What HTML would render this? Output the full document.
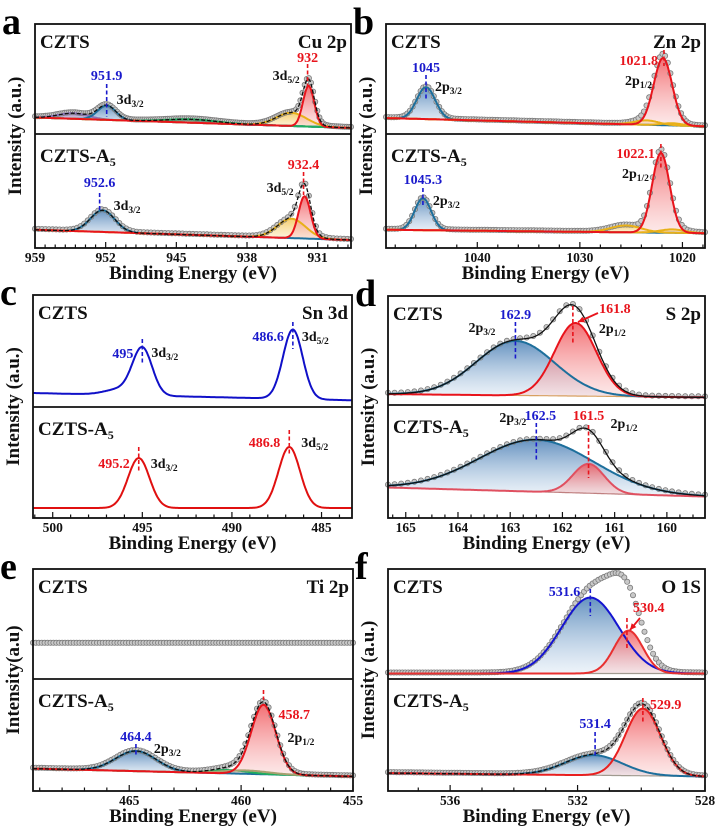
<!DOCTYPE html>
<html><head><meta charset="utf-8"><style>
html,body{margin:0;padding:0;background:#fff;}
svg{display:block;font-family:"Liberation Serif","DejaVu Serif",serif;font-weight:bold;}
text{font-family:"Liberation Serif","DejaVu Serif",serif;}
</style></head><body>
<svg id="fig" width="721" height="836" viewBox="0 0 721 836" xmlns="http://www.w3.org/2000/svg">
<defs>
<linearGradient id="gBlue" x1="0" y1="0" x2="0" y2="1"><stop offset="0" stop-color="#4a7fb5" stop-opacity="0.85"/><stop offset="1" stop-color="#dce8f4" stop-opacity="0.5"/></linearGradient>
<linearGradient id="gRed" x1="0" y1="0" x2="0" y2="1"><stop offset="0" stop-color="#f0555a" stop-opacity="0.85"/><stop offset="1" stop-color="#fbd5d5" stop-opacity="0.5"/></linearGradient>
<linearGradient id="gYel" x1="0" y1="0" x2="0" y2="1"><stop offset="0" stop-color="#f3c24a" stop-opacity="0.8"/><stop offset="1" stop-color="#fbecc4" stop-opacity="0.5"/></linearGradient>
<linearGradient id="gGrn" x1="0" y1="0" x2="0" y2="1"><stop offset="0" stop-color="#2fb26a" stop-opacity="0.8"/><stop offset="1" stop-color="#c9ecd6" stop-opacity="0.5"/></linearGradient>
<linearGradient id="gPur" x1="0" y1="0" x2="0" y2="1"><stop offset="0" stop-color="#9b86c4" stop-opacity="0.8"/><stop offset="1" stop-color="#e4dcf0" stop-opacity="0.5"/></linearGradient>
<linearGradient id="gOl" x1="0" y1="0" x2="0" y2="1"><stop offset="0" stop-color="#b8b08a" stop-opacity="0.8"/><stop offset="1" stop-color="#ebe8d8" stop-opacity="0.5"/></linearGradient>
</defs>
</svg>
<script>
// ---- data (fractions of sub-panel height; energies in eV) ----
const cuTopCenters=[955.2,951.9,943.5,933.6,931.9];
const cuTopAmps=[0.05,0.13,0.03,0.12,0.37];
const cuTopWidths=[1.5,0.9,2.5,1.5,0.55];
const cuTopBg=[0.15,0.055];
const cuBotCenters=[952.3,933.6,932.3];
const cuBotAmps=[0.19,0.17,0.37];
const cuBotWidths=[1.2,1.4,0.6];
const cuBotBg=[0.16,0.07];
const znTopCenters=[1045,1023.5,1021.0,1021.9];
const znTopAmps=[0.29,0.04,0.02,0.61];
const znTopWidths=[0.9,1.2,1.0,0.9];
const znTopBg=[0.145,0.07];
const znBotCenters=[1045.3,1025.5,1021.0,1022.1];
const znBotAmps=[0.28,0.06,0.03,0.7];
const znBotWidths=[0.8,1.5,1.2,0.85];
const znBotBg=[0.16,0.13];
const snTopCenters=[496.3,495,486.6];
const snTopAmps=[0.05,0.42,0.62];
const snTopWidths=[0.8,0.55,0.55];
const snTopBg=[0.125,0.06];
const snBotCenters=[495.2,486.8];
const snBotAmps=[0.45,0.55];
const snBotWidths=[0.6,0.6];
const snBotBg=[0.09,0.09];
const sTopCenters=[162.9,161.75];
const sTopAmps=[0.5,0.67];
const sTopWidths=[0.75,0.4];
const sTopBg=[0.1,0.07];
const sBotCenters=[162.5,161.5];
const sBotAmps=[0.46,0.26];
const sBotWidths=[1.1,0.3];
const sBotBg=[0.27,0.19];
const tiTopLevel=[0.32,0.32];
const tiBotCenters=[464.7,460.5,459.8,459.0];
const tiBotAmps=[0.18,0.03,0.03,0.62];
const tiBotWidths=[0.9,0.8,1.0,0.55];
const tiBotBg=[0.2,0.13];
const oTopCenters=[531.6,530.4];
const oTopAmps=[0.69,0.39];
const oTopWidths=[0.9,0.45];
const oTopExtra=[530.9,0.18,0.6];
const oTopBg=[0.05,0.05];
const oBotCenters=[531.5,529.95];
const oBotAmps=[0.18,0.6];
const oBotWidths=[0.9,0.55];
const oBotBg=[0.16,0.13];
const tickA=[959,952,945,938,931];
const tickB=[1040,1030,1020];
const tickC=[500,495,490,485];
const tickD=[165,164,163,162,161,160];
const tickE=[465,460,455];
const tickF=[536,532,528];

const NS='http://www.w3.org/2000/svg';
const svg=document.getElementById('fig');
function el(tag,attrs,parent){const e=document.createElementNS(NS,tag);for(const k in attrs)e.setAttribute(k,attrs[k]);if(tag==='text'){e.setAttribute('font-family','Liberation Serif, DejaVu Serif, serif');e.setAttribute('font-weight','bold');}(parent||svg).appendChild(e);return e;}
function gauss(x,c,a,s){return a*Math.exp(-(x-c)*(x-c)/(2*s*s));}

function makePanel(o){
  const g=el('g',{});
  
  
  const sx=e=>o.x0+(o.dom[0]-e)/(o.dom[0]-o.dom[1])*(o.x1-o.x0);
  o.sx=sx;
  const step=o.minor;
  for(let e=Math.ceil(Math.min(o.dom[0],o.dom[1])/step)*step;e<=Math.max(o.dom[0],o.dom[1])+1e-9;e+=step){
    const x=sx(e); if(x<o.x0||x>o.x1)continue;
    const maj=o.ticks.some(t=>Math.abs(t-e)<1e-6);
    const t=el('line',{x1:x,x2:x,y1:o.bot,y2:o.bot-(maj?6:3.5),stroke:'#111','stroke-width':1.2},g);
    
    
  }
  o.ticks.forEach(v=>{
    const t=el('text',{x:sx(v),y:o.bot+14,'text-anchor':'middle','font-size':13.5,fill:'#111'},g);
    t.textContent=v;
    
    
  });
  const xt=el('text',{x:(o.x0+o.x1)/2,y:o.bot+31,'text-anchor':'middle','font-size':19,fill:'#111'},g);
  xt.textContent='Binding Energy (eV)';
  
  
  const yt=el('text',{x:0,y:0,'text-anchor':'middle','font-size':19,fill:'#111',transform:`translate(${o.x0-14},${(o.top+o.bot)/2}) rotate(-90)`},g);
  yt.textContent=o.ytitle;
  
  
  const pl=el('text',{x:o.x0-33,y:o.top+10,'font-size':38,fill:'#000'},g);
  pl.textContent=o.letter;
  
  
  return g;
}

function drawSub(o,g,s){
  const sx=o.sx, y0=s.y0, y1=s.y1, h=y1-y0;
  const sy=f=>y1-f*h;
  const bg=e=>s.bg[0]+(s.bg[1]-s.bg[0])*(o.dom[0]-e)/(o.dom[0]-o.dom[1]);
  const N=300, xs=[];
  for(let i=0;i<=N;i++)xs.push(o.dom[0]+(o.dom[1]-o.dom[0])*i/N);
  const sg=el('g',{},g);
  
  
  const C=s.centers||[], A=s.amps||[], W=s.widths||[];
  if(s.mode==='fit'){
    C.forEach((c,k)=>{
      let d='M'+sx(xs[0])+','+sy(bg(xs[0]));
      xs.forEach(x=>{d+='L'+sx(x).toFixed(1)+','+sy(bg(x)+gauss(x,c,A[k],W[k])).toFixed(1);});
      d+='L'+sx(xs[N])+','+sy(bg(xs[N]))+'Z';
      const p=el('path',{d,fill:s.fills[k],stroke:'none'},sg);
      
      
    });
    let bd='';xs.forEach((x,i)=>{bd+=(i?'L':'M')+sx(x).toFixed(1)+','+sy(bg(x)).toFixed(1);});
    const bl=el('path',{d:bd,fill:'none',stroke:s.bgCol||'#a09a90','stroke-width':1.2},sg);
    
    
  }
  const env=x=>{let v=bg(x);C.forEach((c,k)=>v+=gauss(x,c,A[k],W[k]));if(s.extra)v+=gauss(x,s.extra[0],s.extra[1],s.extra[2]);return v;};
  if(s.points){
    const M=s.points;
    for(let i=0;i<=M;i++){
      const x=o.dom[0]+(o.dom[1]-o.dom[0])*i/M;
      const c=el('circle',{cx:sx(x).toFixed(1),cy:(sy(env(x))-1).toFixed(1),r:2.6,fill:'#c8c8c8',stroke:'#7a7a7a','stroke-width':0.8},sg);
      
      
    }
  }
  if(s.mode==='fit'){
    C.forEach((c,k)=>{
      let d='';
      xs.forEach((x,i)=>{d+=(i?'L':'M')+sx(x).toFixed(1)+','+sy(bg(x)+gauss(x,c,A[k],W[k])).toFixed(1);});
      const p=el('path',{d,fill:'none',stroke:s.lines[k],'stroke-width':2},sg);
      
      
    });
    if(s.env){
      let d='';xs.forEach((x,i)=>{d+=(i?'L':'M')+sx(x).toFixed(1)+','+sy(env(x)).toFixed(1);});
      const p=el('path',{d,fill:'none',stroke:'#111','stroke-width':1.3,'stroke-dasharray':s.env==='dash'?'4,2':'none'},sg);
      
      
    }
  }
  if(s.mode==='line'){
    let d='';xs.forEach((x,i)=>{d+=(i?'L':'M')+sx(x).toFixed(1)+','+sy(env(x)).toFixed(1);});
    const p=el('path',{d,fill:'none',stroke:s.lineCol,'stroke-width':2},sg);
    
    
  }
  const sl=el('text',{x:o.x0+5,y:s.y0+(s===o.subs[0]?24:28),'font-size':19,fill:'#111'},sg);
  sl.innerHTML=s.sample;
  
  
  (s.ann||[]).forEach(a=>{
    const ln=el('line',{x1:sx(a.e),x2:sx(a.e),y1:a.l[0],y2:a.l[1],stroke:a.col,'stroke-width':1.6,'stroke-dasharray':'4,2.5'},sg);
    
    
    const t=el('text',{x:sx(a.e)+a.dx,y:a.y,'text-anchor':a.anchor||'middle','font-size':14,fill:a.col},sg);
    t.textContent=a.t;
    
    
    if(a.orb){
      const ot=el('text',{x:sx(a.e)+a.ox,y:a.oy,'text-anchor':a.oanchor||'start','font-size':14,fill:'#111'},sg);
      ot.innerHTML=a.orb[0]+'<tspan font-size="9.5" dy="3">'+a.orb[1]+'</tspan>';
      
      
    }
    if(a.arrow){
      const ar=el('line',{x1:a.arrow[0],y1:a.arrow[1],x2:a.arrow[2],y2:a.arrow[3],stroke:a.col,'stroke-width':1.8},sg);
      
      
      const ang=Math.atan2(a.arrow[3]-a.arrow[1],a.arrow[2]-a.arrow[0]);
      const hx=a.arrow[2],hy=a.arrow[3],L=7;
      const hp=el('polygon',{points:`${hx},${hy} ${hx-L*Math.cos(ang-0.45)},${hy-L*Math.sin(ang-0.45)} ${hx-L*Math.cos(ang+0.45)},${hy-L*Math.sin(ang+0.45)}`,fill:a.col},sg);
      
      
    }
  });
}

const A5='CZTS-A<tspan font-size="12" dy="4">5</tspan>';
const BL='#1d6f9c', RD='#e8141c', YL='#e8b018', GR='#1fae5e', PU='#8a74b8', OL='#a8a070';
const panels=[
 {name:'panel-a-cu2p',letter:'a',x0:35,x1:351,top:24,mid:134,bot:248,dom:[959,927.7],ticks:tickA,minor:1,ytitle:'Intensity (a.u.)',elem:'Cu 2p',
  subs:[
   {name:'cu-czts',sample:'CZTS',mode:'fit',centers:cuTopCenters,amps:cuTopAmps,widths:cuTopWidths,bg:cuTopBg,fills:['url(#gPur)','url(#gBlue)','url(#gGrn)','url(#gYel)','url(#gRed)'],lines:[PU,BL,GR,YL,RD],points:150,env:'dash',
    ann:[{e:951.9,t:'951.9',col:'#1a1acc',y:80,l:[84,117],dx:0,orb:['3d','3/2'],ox:10,oy:104},
         {e:932,t:'932',col:RD,y:62,l:[64,88],dx:0,orb:['3d','5/2'],ox:-8,oy:80,oanchor:'end'}]},
   {name:'cu-czts-a5',sample:A5,mode:'fit',centers:cuBotCenters,amps:cuBotAmps,widths:cuBotWidths,bg:cuBotBg,fills:['url(#gBlue)','url(#gYel)','url(#gRed)'],lines:[BL,YL,RD],points:90,env:'dash',
    ann:[{e:952.6,t:'952.6',col:'#1a1acc',y:187,l:[193,212],dx:0,orb:['3d','3/2'],ox:14,oy:210},
         {e:932.4,t:'932.4',col:RD,y:169,l:[172,195],dx:0,orb:['3d','5/2'],ox:-10,oy:192,oanchor:'end'}]}]},
 {name:'panel-b-zn2p',letter:'b',x0:386,x1:705,top:24,mid:134,bot:248,dom:[1048.9,1017.8],ticks:tickB,minor:2,ytitle:'Intensity (a.u.)',elem:'Zn 2p',
  subs:[
   {name:'zn-czts',sample:'CZTS',mode:'fit',centers:znTopCenters,amps:znTopAmps,widths:znTopWidths,bg:znTopBg,fills:['url(#gBlue)','url(#gYel)','url(#gYel)','url(#gRed)'],lines:[BL,YL,YL,RD],points:120,
    ann:[{e:1045,t:'1045',col:'#1a1acc',y:72,l:[75,100],dx:0,orb:['2p','3/2'],ox:9,oy:91},
         {e:1021.8,t:'1021.8',col:RD,y:65,l:[50,66],dx:-6,anchor:'end',orb:['2p','1/2'],ox:-12,oy:85,oanchor:'end'}]},
   {name:'zn-czts-a5',sample:A5,mode:'fit',centers:znBotCenters,amps:znBotAmps,widths:znBotWidths,bg:znBotBg,fills:['url(#gBlue)','url(#gYel)','url(#gYel)','url(#gRed)'],lines:[BL,YL,YL,RD],points:110,
    ann:[{e:1045.3,t:'1045.3',col:'#1a1acc',y:184,l:[188,205],dx:0,orb:['2p','3/2'],ox:10,oy:205},
         {e:1022.1,t:'1022.1',col:RD,y:158,l:[144,170],dx:-6,anchor:'end',orb:['2p','1/2'],ox:-12,oy:178,oanchor:'end'}]}]},
 {name:'panel-c-sn3d',letter:'c',x0:33,x1:352,top:295,mid:407,bot:518,dom:[501.1,483.3],ticks:tickC,minor:1,ytitle:'Intensity (a.u.)',elem:'Sn 3d',
  subs:[
   {name:'sn-czts',sample:'CZTS',mode:'line',lineCol:'#1010c8',centers:snTopCenters,amps:snTopAmps,widths:snTopWidths,bg:snTopBg,
    ann:[{e:495,t:'495',col:'#1a1acc',y:358,l:[339,363],dx:-9,anchor:'end',orb:['3d','3/2'],ox:9,oy:357},
         {e:486.6,t:'486.6',col:'#1a1acc',y:341,l:[322,349],dx:-9,anchor:'end',orb:['3d','5/2'],ox:9,oy:341}]},
   {name:'sn-czts-a5',sample:A5,mode:'line',lineCol:'#e01010',centers:snBotCenters,amps:snBotAmps,widths:snBotWidths,bg:snBotBg,
    ann:[{e:495.2,t:'495.2',col:RD,y:468,l:[447,473],dx:-9,anchor:'end',orb:['3d','3/2'],ox:12,oy:468},
         {e:486.8,t:'486.8',col:RD,y:447,l:[430,454],dx:-9,anchor:'end',orb:['3d','5/2'],ox:12,oy:447}]}]},
 {name:'panel-d-s2p',letter:'d',x0:388,x1:705,top:296,mid:405,bot:518,dom:[165.34,159.27],ticks:tickD,minor:0.25,ytitle:'Intensity (a.u.)',elem:'S 2p',
  subs:[
   {name:'s-czts',sample:'CZTS',mode:'fit',centers:sTopCenters,amps:sTopAmps,widths:sTopWidths,bg:sTopBg,bgCol:'#d8a060',fills:['url(#gBlue)','url(#gRed)'],lines:[BL,RD],points:48,env:'solid',
    ann:[{e:162.9,t:'162.9',col:'#1a1acc',y:319,l:[322,360],dx:0,orb:['2p','3/2'],ox:-20,oy:332,oanchor:'end'},
         {e:161.8,t:'161.8',col:RD,y:313,l:[306,343],dx:42,arrow:[598,313,578,322],orb:['2p','1/2'],ox:26,oy:333}]},
   {name:'s-czts-a5',sample:A5,mode:'fit',centers:sBotCenters,amps:sBotAmps,widths:sBotWidths,bg:sBotBg,bgCol:'#c08080',fills:['url(#gBlue)','url(#gRed)'],lines:[BL,'#e05060'],points:48,env:'solid',
    ann:[{e:162.5,t:'162.5',col:'#1a1acc',y:420,l:[423,462],dx:4,orb:['2p','3/2'],ox:-10,oy:422,oanchor:'end'},
         {e:161.5,t:'161.5',col:RD,y:420,l:[425,478],dx:0,orb:['2p','1/2'],ox:22,oy:428}]}]},
 {name:'panel-e-ti2p',letter:'e',x0:33,x1:353,top:569,mid:679,bot:791,dom:[469.3,455],ticks:tickE,minor:1,ytitle:'Intensity(a.u)',elem:'Ti 2p',
  subs:[
   {name:'ti-czts',sample:'CZTS',mode:'pts',bg:tiTopLevel,points:110},
   {name:'ti-czts-a5',sample:A5,mode:'fit',centers:tiBotCenters,amps:tiBotAmps,widths:tiBotWidths,bg:tiBotBg,fills:['url(#gBlue)','url(#gGrn)','url(#gOl)','url(#gRed)'],lines:[BL,GR,OL,RD],points:110,env:'dash',
    ann:[{e:464.7,t:'464.4',col:'#1a1acc',y:741,l:[744,756],dx:0,orb:['2p','3/2'],ox:18,oy:753},
         {e:459.0,t:'458.7',col:RD,y:719,l:[690,700],dx:15,anchor:'start',orb:['2p','1/2'],ox:24,oy:742}]}]},
 {name:'panel-f-o1s',letter:'f',x0:388,x1:705,top:569,mid:679,bot:791,dom:[537.95,528],ticks:tickF,minor:1,ytitle:'Intensity (a.u.)',elem:'O 1S',
  subs:[
   {name:'o-czts',sample:'CZTS',mode:'fit',centers:oTopCenters,amps:oTopAmps,widths:oTopWidths,extra:oTopExtra,bg:oTopBg,fills:['url(#gBlue)','url(#gRed)'],lines:['#1414d0','#e83030'],points:110,
    ann:[{e:531.6,t:'531.6',col:'#1a1acc',y:596,l:[589,616],dx:-10,anchor:'end'},
         {e:530.45,t:'530.4',col:RD,y:612,l:[618,650],dx:6,anchor:'start',arrow:[640,618,630,630]}]},
   {name:'o-czts-a5',sample:A5,mode:'fit',centers:oBotCenters,amps:oBotAmps,widths:oBotWidths,bg:oBotBg,fills:['url(#gBlue)','url(#gRed)'],lines:[BL,'#e82020'],points:110,env:'dash',
    ann:[{e:531.45,t:'531.4',col:'#1a1acc',y:728,l:[732,756],dx:0},
         {e:529.95,t:'529.9',col:RD,y:709,l:[698,724],dx:7,anchor:'start'}]}]}
];

panels.forEach(o=>{
  const g=makePanel(o);
  o.subs[0].y0=o.top;o.subs[0].y1=o.mid;o.subs[1].y0=o.mid;o.subs[1].y1=o.bot;
  o.subs.forEach(s=>drawSub(o,g,s));
  const f=el('rect',{x:o.x0,y:o.top,width:o.x1-o.x0,height:o.bot-o.top,fill:'none',stroke:'#111','stroke-width':1.8},g);
  
  
  const d=el('line',{x1:o.x0,x2:o.x1,y1:o.mid,y2:o.mid,stroke:'#111','stroke-width':1.8},g);
  
  
  const et=el('text',{x:o.x1-4,y:o.top+24,'text-anchor':'end','font-size':19,fill:'#111'},g);
  et.textContent=o.elem;
  
  
});
</script>
</body></html>
